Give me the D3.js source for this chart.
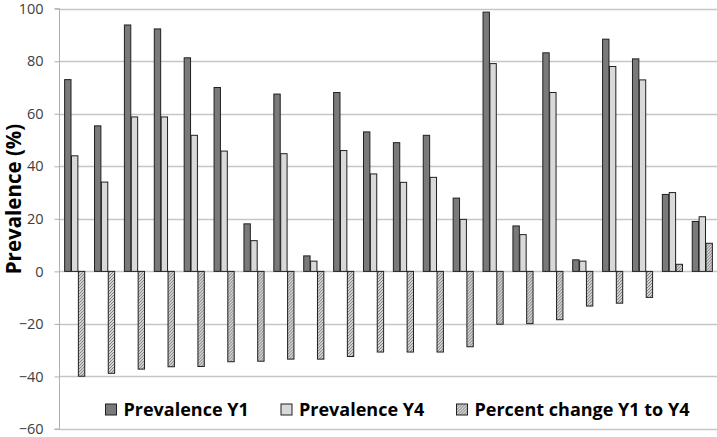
<!DOCTYPE html>
<html>
<head>
<meta charset="utf-8">
<script src="https://cdn.jsdelivr.net/npm/d3@7"></script>
<style>
  html, body { margin: 0; padding: 0; background: #fff; }
  svg { display: block; }
  text { font-family: "Open Sans", "Noto Sans", sans-serif; }
</style>
</head>
<body>
<svg id="chart" width="717" height="437"></svg>
<script>
const categories = ["1","2","3","4","5","6","7","8","9","10","11","12","13","14","15","16","17","18","19","20","21","22"];
const seriesNames = ["Prevalence Y1", "Prevalence Y4", "Percent change Y1 to Y4"];
const prevalenceY1 = [73, 55.4, 93.8, 92.3, 81.3, 70, 18.1, 67.5, 5.9, 68.1, 53.1, 49, 51.8, 27.9, 98.7, 17.3, 83.2, 4.4, 88.4, 80.9, 29.3, 19];
const prevalenceY4 = [44, 34, 58.8, 58.8, 51.8, 45.8, 11.7, 44.8, 3.9, 46, 37.1, 33.9, 35.8, 19.8, 79.1, 14, 68.1, 3.9, 78, 72.9, 30, 20.8];
const percentChange = [-39.9, -38.8, -37.2, -36.3, -36.2, -34.4, -34.2, -33.4, -33.4, -32.4, -30.7, -30.7, -30.7, -28.7, -20.1, -19.9, -18.4, -13.2, -12.1, -9.9, 2.7, 10.7];
const yTicks = [-60, -40, -20, 0, 20, 40, 60, 80, 100];

const svg = d3.select("#chart");
const mLeft = 59.5, mRight = 717, mTop = 8.7, mBottom = 429;

const defs = svg.append("defs");
const pat = defs.append("pattern").attr("id", "hatch").attr("patternUnits", "userSpaceOnUse")
  .attr("width", 3).attr("height", 3);
pat.append("rect").attr("width", 3).attr("height", 3).attr("fill", "#d4d4d4");
pat.append("path").attr("d", "M0,3 L3,0 M-1,1 L1,-1 M2,4 L4,2").attr("stroke", "#808080").attr("stroke-width", 1);

const y = d3.scaleLinear().domain([-60, 100]).range([mBottom, mTop]);
const x0 = d3.scaleBand().domain(categories).range([mLeft, mRight]).paddingInner(0.31).paddingOuter(0.155);
const x1 = d3.scaleBand().domain(seriesNames).range([0, x0.bandwidth()]);

const fills = ["#7a7a7a", "#d9d9d9", "url(#hatch)"];
const seriesData = [prevalenceY1, prevalenceY4, percentChange];

// gridlines
svg.append("g").selectAll("line").data(yTicks).join("line")
  .attr("x1", mLeft).attr("x2", mRight)
  .attr("y1", d => Math.round(y(d)) + 0.5).attr("y2", d => Math.round(y(d)) + 0.5)
  .attr("stroke", "#c6c6c6").attr("stroke-width", 1.3);

// y axis
const yAxis = d3.axisLeft(y).tickValues(yTicks).tickSize(5).tickPadding(11);
const ga = svg.append("g").attr("transform", `translate(${mLeft},0)`).call(yAxis);
ga.select(".domain").attr("stroke", "#b0b0b0").attr("d", `M-5,${y(100)}H0V${y(-60)}H-5`);
ga.selectAll(".tick line").attr("stroke", "#b0b0b0");
ga.selectAll(".tick text").attr("fill", "#404040").style("font-size", "14.5px")
  .style("font-family", "'Open Sans', sans-serif");

// bars
const groups = svg.append("g").selectAll("g").data(categories).join("g")
  .attr("transform", d => `translate(${x0(d)},0)`);
groups.selectAll("rect").data((c, i) => seriesNames.map((s, k) => ({ s, k, v: seriesData[k][i] })))
  .join("rect")
  .attr("x", d => x1(d.s) + 0.5)
  .attr("width", x1.bandwidth() - 0.5)
  .attr("y", d => y(Math.max(0, d.v)))
  .attr("height", d => Math.abs(y(d.v) - y(0)))
  .attr("fill", d => fills[d.k])
  .attr("stroke", "#202020").attr("stroke-width", 1);

// y axis title
svg.append("text")
  .attr("transform", `translate(21,${(113 + 285) / 2}) rotate(-90)`)
  .attr("text-anchor", "middle")
  .style("font-size", "20.5px").style("font-weight", "bold").attr("fill", "#000")
  .text("Prevalence (%)");

// legend
const legendX = [105.5, 281, 456.5];
const lg = svg.append("g").selectAll("g").data(seriesNames).join("g")
  .attr("transform", (d, i) => `translate(${legendX[i]},404)`);
lg.append("rect").attr("width", 11).attr("height", 11)
  .attr("fill", (d, i) => fills[i]).attr("stroke", "#202020").attr("stroke-width", 1);
lg.append("text").attr("x", 18).attr("y", 12)
  .style("font-size", "18px").style("font-weight", "bold").attr("fill", "#000")
  .text(d => d);
</script>
</body>
</html>
